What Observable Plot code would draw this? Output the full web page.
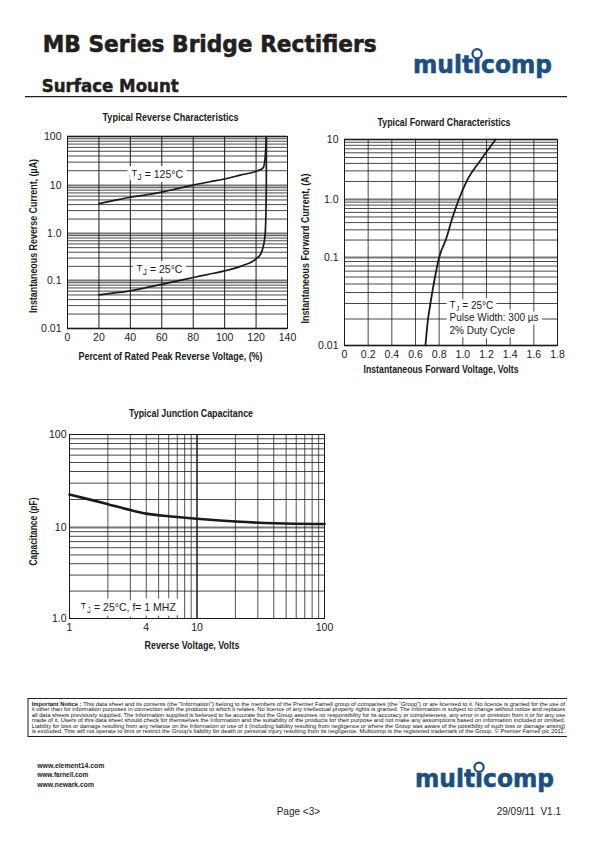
<!DOCTYPE html>
<html><head><meta charset="utf-8"><title>MB Series Bridge Rectifiers</title>
<script src="https://cdn.jsdelivr.net/npm/d3@7"></script>
<script src="https://cdn.jsdelivr.net/npm/@observablehq/plot@0.6"></script>
<style>
html,body{margin:0;padding:0;background:#fff;}
#page{position:relative;width:595px;height:841px;overflow:hidden;background:#fff;}
#page svg{position:absolute;overflow:visible;}
</style></head><body><div id="page"></div>
<script>
// ---------------- data ----------------
// Typical Reverse Characteristics
const reversePct125 = [20, 30, 40, 50, 60, 70, 80, 90, 100, 110, 120, 124.5, 125.7, 126.2, 126.5];
const reverseCur125 = [4.2, 4.9, 5.7, 6.4, 7.3, 8.6, 10.2, 11.8, 13.6, 16.3, 19.5, 23, 35, 60, 100];
const reversePct25 = [20, 30, 40, 50, 60, 70, 80, 90, 100, 110, 120, 123, 124.5, 125.5, 126, 126.3, 126.5, 126.6];
const reverseCur25 = [0.05, 0.055, 0.061, 0.071, 0.083, 0.098, 0.116, 0.136, 0.16, 0.2, 0.29, 0.37, 0.52, 0.8, 1.3, 3, 10, 100];
const reverseXTicks = [0, 20, 40, 60, 80, 100, 120, 140];
const reverseYTicks = [0.01, 0.1, 1, 10, 100];
const reverseYLabels = ["0.01", "0.1", "1.0", "10", "100"];
const reverseGridX = [20, 40, 60, 80, 100, 120];
const reverseDecades = [0.01, 0.1, 1, 10];

// Typical Forward Characteristics
const forwardVolts = [0.684, 0.704, 0.726, 0.754, 0.80, 0.859, 0.91, 0.966, 1.037, 1.153, 1.277];
const forwardAmps = [0.01, 0.019, 0.03, 0.05, 0.1, 0.21, 0.47, 1.0, 2.1, 4.6, 10];
const forwardXTicks = [0, 0.2, 0.4, 0.6, 0.8, 1.0, 1.2, 1.4, 1.6, 1.8];
const forwardXLabels = ["0", "0.2", "0.4", "0.6", "0.8", "1.0", "1.2", "1.4", "1.6", "1.8"];
const forwardYTicks = [0.01, 0.1, 1, 10];
const forwardYLabels = ["0.01", "0.1", "1.0", "10"];
const forwardGridX = [0.2, 0.4, 0.6, 0.8, 1.0, 1.2, 1.4, 1.6];
const forwardDecades = [0.01, 0.1, 1];

// Typical Junction Capacitance
const capVolts = [1, 1.5, 2, 3, 4, 6, 10, 20, 40, 100];
const capPf = [22.6, 19.7, 17.8, 15.4, 14.1, 13.2, 12.4, 11.6, 11.1, 10.9];
const capXTicks = [1, 4, 10, 100];
const capXLabels = ["1", "4", "10", "100"];
const capYTicks = [1, 10, 100];
const capYLabels = ["1.0", "10", "100"];
const capDecades = [1, 10];

const logMultipliers = [2, 3, 4, 5, 6, 7, 8, 9];

// ---------------- helpers ----------------
const NS = "http://www.w3.org/2000/svg";
const page = document.getElementById("page");
const ink = "#1a1a1a";
const narrow = "'Liberation Sans Narrow','Arial Narrow','Liberation Sans',Arial,sans-serif";
const sans = "'Liberation Sans',Arial,Helvetica,sans-serif";

const zip = (xs, ys) => xs.map((x, i) => ({x, y: ys[i]}));
const grid = (decades) => decades.flatMap(d => logMultipliers.map(m => +(m * d).toPrecision(3)));
const fmt = (ticks, labels) => { const m = new Map(ticks.map((t, i) => [t, labels[i]])); return d => m.get(d) ?? ""; };

function place(svg, left, top, widths) {
  svg.style.left = left + "px";
  svg.style.top = top + "px";
  page.appendChild(svg);
  // fit narrow titles to the widths measured on the reference
  svg.querySelectorAll("text").forEach(el => {
    const w = widths[el.textContent];
    if (w) { el.setAttribute("textLength", w); el.setAttribute("lengthAdjust", "spacingAndGlyphs"); }
  });
  // subscript J in "TJ"
  svg.querySelectorAll("text, tspan").forEach(el => {
    const n = el.firstChild;
    if (n && n.nodeType === 3 && n.nodeValue.startsWith("TJ")) {
      const rest = n.nodeValue.slice(2);
      n.nodeValue = "T";
      const s = document.createElementNS(NS, "tspan");
      s.setAttribute("dy", "2.5"); s.setAttribute("font-size", "0.8em"); s.textContent = "J";
      const r = document.createElementNS(NS, "tspan");
      r.setAttribute("dy", "-2.5"); r.textContent = rest;
      el.insertBefore(s, n.nextSibling);
      el.insertBefore(r, s.nextSibling);
    }
  });
}

function titleMarks(t, xt, yt, o) {
  return [
    Plot.text([t], {frameAnchor: "top", textAnchor: "middle", lineAnchor: "middle", dx: o.tdx, dy: o.tdy, fontWeight: "bold", fontSize: 10.5, fill: ink}),
    Plot.text([xt], {frameAnchor: "bottom", textAnchor: "middle", lineAnchor: "middle", dx: o.xdx, dy: o.xdy, fontWeight: "bold", fontSize: 10.5, fill: ink}),
    Plot.text([yt], {frameAnchor: "left", textAnchor: "middle", lineAnchor: "middle", rotate: -90, dx: o.ydx, dy: o.ydy, fontWeight: "bold", fontSize: 10.5, fill: ink})
  ];
}
const tickStyle = {fontSize: 10.5};

// ---------------- chart 1: reverse ----------------
const c1 = Plot.plot({
  width: 280, height: 260,
  marginLeft: 47, marginRight: 13, marginTop: 31, marginBottom: 37,
  style: {fontFamily: narrow, fontSize: "10.5px", color: ink, background: "none"},
  x: {domain: [0, 140], range: [47, 267]},
  y: {type: "log", domain: [0.01, 0.1, 1, 10, 100], range: [223, 175, 128, 80, 31]},
  marks: [
    Plot.ruleY(grid(reverseDecades), {stroke: ink, strokeOpacity: 0.8}),
    Plot.ruleY(reverseYTicks, {stroke: ink, strokeOpacity: 0.6, strokeWidth: 2}),
    Plot.ruleX(reverseGridX, {stroke: ink}),
    Plot.frame({stroke: ink}),
    Plot.line(zip(reversePct125, reverseCur125), {x: "x", y: "y", stroke: ink, strokeWidth: 1.7, curve: "monotone-x"}),
    Plot.line(zip(reversePct25, reverseCur25), {x: "x", y: "y", stroke: ink, strokeWidth: 1.7, curve: "monotone-x"}),
    Plot.text(["TJ = 125°C"], {x: [57], y: [16.8], fontSize: 10.5, fill: ink, stroke: "white", strokeWidth: 8, paintOrder: "stroke"}),
    Plot.text(["TJ = 25°C"], {x: [58.5], y: [0.172], fontSize: 10.5, fill: ink, stroke: "white", strokeWidth: 8, paintOrder: "stroke"}),
    Plot.axisX({ticks: reverseXTicks, tickSize: 0, tickPadding: 5, tickFormat: d => String(d), label: null, ...tickStyle}),
    Plot.axisY({ticks: reverseYTicks, tickSize: 0, tickPadding: 6, tickFormat: fmt(reverseYTicks, reverseYLabels), label: null, ...tickStyle}),
    ...titleMarks("Typical Reverse Characteristics", "Percent of Rated Peak Reverse Voltage, (%)", "Instantaneous Reverse Current, (µA)",
      {tdx: -7, tdy: -19, xdx: -7, xdy: 28, ydx: -34, ydy: 3.5})
  ]
});
place(c1, 20, 105, {
  "Typical Reverse Characteristics": 136,
  "Percent of Rated Peak Reverse Voltage, (%)": 184,
  "Instantaneous Reverse Current, (µA)": 154
});

// ---------------- chart 2: forward ----------------
const c2 = Plot.plot({
  width: 285, height: 270,
  marginLeft: 44, marginRight: 28, marginTop: 29, marginBottom: 35,
  style: {fontFamily: narrow, fontSize: "10.5px", color: ink, background: "none"},
  x: {domain: [0, 1.8], range: [44, 257]},
  y: {type: "log", domain: [0.01, 0.1, 1, 10], range: [235, 147, 89, 29]},
  marks: [
    Plot.ruleY(grid(forwardDecades), {stroke: ink, strokeOpacity: 0.8}),
    Plot.ruleY(forwardYTicks, {stroke: ink, strokeOpacity: 0.6, strokeWidth: 2}),
    Plot.ruleX(forwardGridX, {stroke: ink, strokeOpacity: 0.8}),
    Plot.frame({stroke: ink}),
    Plot.line(zip(forwardVolts, forwardAmps), {x: "x", y: "y", stroke: ink, strokeWidth: 1.8, curve: "monotone-x"}),
    Plot.text(["TJ = 25°C\nPulse Width: 300 µs\n2% Duty Cycle"], {x: [0.887], y: [0.021], textAnchor: "start", lineAnchor: "middle", lineHeight: 1.25, fontSize: 10, fill: ink, stroke: "white", strokeWidth: 7, paintOrder: "stroke"}),
    Plot.axisX({ticks: forwardXTicks, tickSize: 0, tickPadding: 5, tickFormat: fmt(forwardXTicks, forwardXLabels), label: null, ...tickStyle}),
    Plot.axisY({ticks: forwardYTicks, tickSize: 0, tickPadding: 6, tickFormat: fmt(forwardYTicks, forwardYLabels), label: null, ...tickStyle}),
    ...titleMarks("Typical Forward Characteristics", "Instantaneous Forward Voltage, Volts", "Instantaneous Forward Current, (A)",
      {tdx: -7, tdy: -17, xdx: -10, xdy: 24, ydx: -39, ydy: 6})
  ]
});
place(c2, 300, 110, {
  "Typical Forward Characteristics": 133,
  "Instantaneous Forward Voltage, Volts": 155,
  "Instantaneous Forward Current, (A)": 150
});

// ---------------- chart 3: capacitance ----------------
const c3 = Plot.plot({
  width: 320, height: 255,
  marginLeft: 49, marginRight: 16, marginTop: 34, marginBottom: 37,
  style: {fontFamily: narrow, fontSize: "10.5px", color: ink, background: "none"},
  x: {type: "log", domain: [1, 100], range: [49, 304]},
  y: {type: "log", domain: [1, 10, 100], range: [218, 127, 34]},
  marks: [
    Plot.ruleY(grid(capDecades), {stroke: ink, strokeOpacity: 0.8}),
    Plot.ruleY([10], {stroke: ink, strokeOpacity: 0.6, strokeWidth: 2}),
    Plot.ruleX(grid(capDecades), {stroke: ink, strokeOpacity: 0.75}),
    Plot.ruleX([10], {stroke: ink, strokeWidth: 1.5}),
    Plot.frame({stroke: ink}),
    Plot.line(zip(capVolts, capPf), {x: "x", y: "y", stroke: ink, strokeWidth: 2.6, curve: "monotone-x"}),
    Plot.text(["TJ = 25°C, f= 1 MHZ"], {x: [1.22], y: [1.32], textAnchor: "start", fontSize: 10.5, fill: ink, stroke: "white", strokeWidth: 9, paintOrder: "stroke"}),
    Plot.axisX({ticks: capXTicks, tickSize: 0, tickPadding: 5, tickFormat: fmt(capXTicks, capXLabels), label: null, ...tickStyle}),
    Plot.axisY({ticks: capYTicks, tickSize: 0, tickPadding: 3, tickFormat: fmt(capYTicks, capYLabels), label: null, ...tickStyle}),
    ...titleMarks("Typical Junction Capacitance", "Reverse Voltage, Volts", "Capacitance (pF)",
      {tdx: -6, tdy: -21, xdx: -5, xdy: 27, ydx: -36, ydy: 5})
  ]
});
place(c3, 20, 400, {
  "Typical Junction Capacitance": 124,
  "Reverse Voltage, Volts": 95,
  "Capacitance (pF)": 68
});

// ---------------- page furniture ----------------
const bg = document.createElementNS(NS, "svg");
bg.setAttribute("width", 595); bg.setAttribute("height", 841);
bg.style.left = "0px"; bg.style.top = "0px";
page.insertBefore(bg, page.firstChild);

function txt(str, x, y, a) {
  const t = document.createElementNS(NS, "text");
  t.setAttribute("x", x); t.setAttribute("y", y);
  for (const k in a) t.setAttribute(k, a[k]);
  if (Array.isArray(str)) {
    for (const [s, w] of str) {
      const sp = document.createElementNS(NS, "tspan");
      if (w) sp.setAttribute("font-weight", w);
      sp.textContent = s; t.appendChild(sp);
    }
  } else t.textContent = str;
  bg.appendChild(t);
  return t;
}
function line(x1, y1, x2, y2, w, c) {
  const l = document.createElementNS(NS, "line");
  l.setAttribute("x1", x1); l.setAttribute("y1", y1); l.setAttribute("x2", x2); l.setAttribute("y2", y2);
  l.setAttribute("stroke", c || "#231f20"); l.setAttribute("stroke-width", w);
  bg.appendChild(l);
}
const heavy = "'DejaVu Sans', Lato, sans-serif";
txt("MB Series Bridge Rectifiers", 42.7, 51.7, {"font-family": heavy, "font-weight": "bold", "font-size": 23, fill: "#231f20", stroke: "#231f20", "stroke-width": 0.6, textLength: 334, lengthAdjust: "spacingAndGlyphs"});
txt("Surface Mount", 41.7, 91.7, {"font-family": heavy, "font-weight": "bold", "font-size": 18, fill: "#231f20", stroke: "#231f20", "stroke-width": 0.5, textLength: 137, lengthAdjust: "spacingAndGlyphs"});
line(25, 96.7, 567, 96.7, 1.2);

function logo(x, y) {
  const t = txt("multicomp", x, y, {"font-family": "'DejaVu Sans', sans-serif", "font-weight": "bold", "font-size": 25, fill: "#1b4f82", stroke: "#1b4f82", "stroke-width": 0.6, textLength: 139, lengthAdjust: "spacingAndGlyphs"});
  let cx = x + 62;
  try { const a = t.getStartPositionOfChar(4), b = t.getEndPositionOfChar(4); cx = (a.x + b.x) / 2; } catch (e) {}
  const c = document.createElementNS(NS, "circle");
  c.setAttribute("cx", cx); c.setAttribute("cy", y - 19.5); c.setAttribute("r", 4.6);
  c.setAttribute("fill", "white"); c.setAttribute("stroke", "#1b4f82"); c.setAttribute("stroke-width", 2.2);
  bg.appendChild(c);
}
logo(413, 73.3);

// notice box
const notice = [
  [["Important Notice : ", "bold"], ["This data sheet and its contents (the \"Information\") belong to the members of the Premier Farnell group of companies (the \u201cGroup\u201d) or are licensed to it. No licence is granted for the use of"]],
  [["it other than for information purposes in connection with the products to which it relates. No licence of any intellectual property rights is granted. The Information is subject to change without notice and replaces"]],
  [["all data sheets previously supplied. The Information supplied is believed to be accurate but the Group assumes no responsibility for its accuracy or completeness, any error in or omission from it or for any use"]],
  [["made of it. Users of this data sheet should check for themselves the Information and the suitability of the products for their purpose and not make any assumptions based on information included or omitted."]],
  [["Liability for loss or damage resulting from any reliance on the Information or use of it (including liability resulting from negligence or where the Group was aware of the possibility of such loss or damage arising)"]],
  [["is excluded. This will not operate to limit or restrict the Group's liability for death or personal injury resulting from its negligence. Multicomp is the registered trademark of the Group. \u00a9 Premier Farnell plc 2011."]]
];
line(27.5, 698.5, 567, 698.5, 1);
line(27.5, 736.5, 567, 736.5, 1);
line(28, 698.5, 28, 736.5, 1);
notice.forEach((ln, i) => txt(ln, 31.7, 705.6 + i * 5.55, {"font-family": sans, "font-size": 5.3, fill: "#111", textLength: 533.5, lengthAdjust: "spacingAndGlyphs"}));

// footer
txt("www.element14.com", 37.3, 767.5, {"font-family": sans, "font-weight": "bold", "font-size": 6.8, fill: "#222", textLength: 67, lengthAdjust: "spacingAndGlyphs"});
txt("www.farnell.com", 37.3, 777, {"font-family": sans, "font-weight": "bold", "font-size": 6.8, fill: "#222", textLength: 51, lengthAdjust: "spacingAndGlyphs"});
txt("www.newark.com", 37.3, 786.6, {"font-family": sans, "font-weight": "bold", "font-size": 6.8, fill: "#222", textLength: 56.7, lengthAdjust: "spacingAndGlyphs"});
logo(415, 786.7);
txt("Page <3>", 276.7, 815.2, {"font-family": sans, "font-size": 10, fill: "#222"});
txt("29/09/11\u00a0\u00a0V1.1", 496.7, 815.2, {"font-family": sans, "font-size": 10, fill: "#222"});
</script></body></html>
